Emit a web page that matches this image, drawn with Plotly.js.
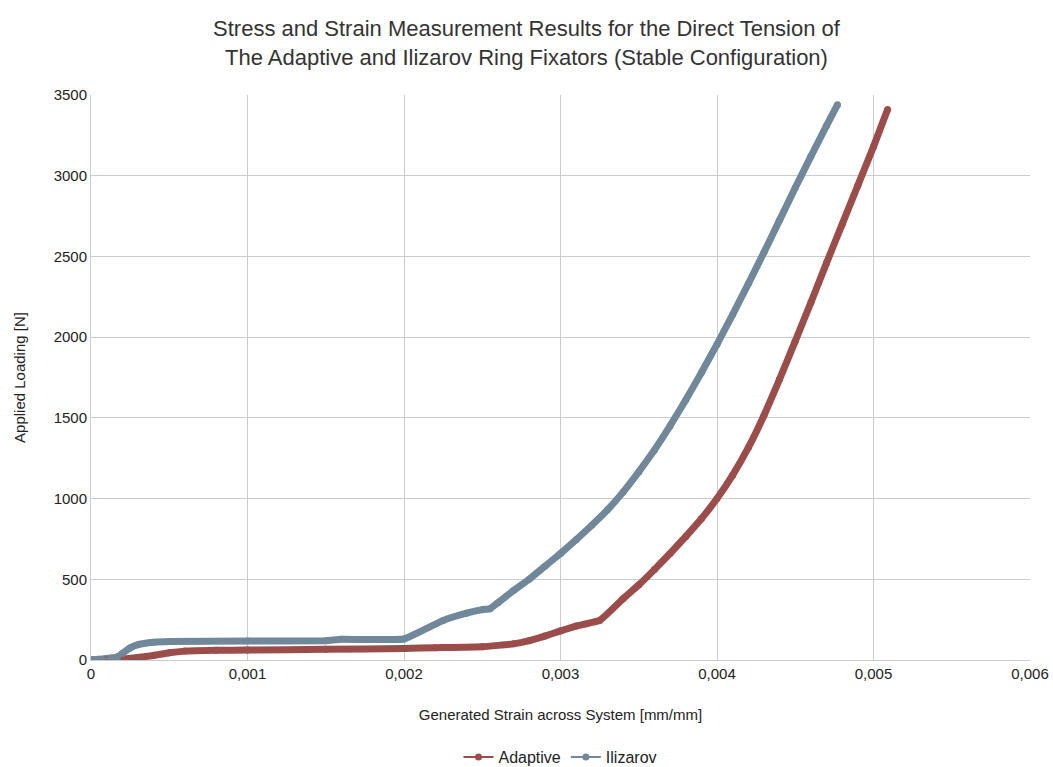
<!DOCTYPE html>
<html>
<head>
<meta charset="utf-8">
<script src="https://cdn.plot.ly/plotly-3.0.1.min.js"></script>
<style>html,body{margin:0;padding:0;background:#fff;}#chart{width:1053px;height:767px;}</style>
</head>
<body>
<div id="chart"></div>
<script>
// Generated strain [mm/mm] and applied loading [N]
var adaptiveStrain = [0, 0.0001, 0.0002, 0.0003, 0.0004, 0.0005, 0.0006, 0.0008, 0.001, 0.0015, 0.002, 0.0022, 0.0025, 0.0027, 0.0028, 0.0029, 0.003, 0.0031, 0.00325, 0.0034, 0.0035, 0.0036, 0.0037, 0.0038, 0.0039, 0.004, 0.0041, 0.0042, 0.0043, 0.0044, 0.0045, 0.0046, 0.0047, 0.0048, 0.0049, 0.005, 0.00509];
var adaptiveLoad   = [0, 2, 5, 15, 28, 45, 55, 60, 62, 66, 72, 76, 82, 100, 120, 148, 180, 210, 245, 380, 465, 560, 660, 765, 875, 1000, 1145, 1315, 1515, 1740, 1975, 2215, 2460, 2700, 2940, 3180, 3410];

var ilizarovStrain = [0, 0.00005, 0.00013, 0.00017, 0.0002, 0.00025, 0.0003, 0.0004, 0.0005, 0.001, 0.0015, 0.0016, 0.002, 0.00225, 0.0024, 0.0025, 0.00255, 0.0026, 0.0027, 0.0028, 0.0029, 0.003, 0.0031, 0.0032, 0.0033, 0.0034, 0.0035, 0.0036, 0.0037, 0.0038, 0.0039, 0.004, 0.0041, 0.0042, 0.0043, 0.0044, 0.0045, 0.0046, 0.0047, 0.00477];
var ilizarovLoad   = [0, 5, 12, 20, 40, 75, 95, 110, 115, 117, 120, 128, 130, 245, 290, 312, 318, 355, 430, 500, 580, 660, 745, 835, 930, 1040, 1165, 1300, 1450, 1610, 1780, 1955, 2140, 2330, 2525, 2725, 2925, 3120, 3310, 3440];

var xTickVals = [0, 0.001, 0.002, 0.003, 0.004, 0.005, 0.006];
var xTickText = ['0', '0,001', '0,002', '0,003', '0,004', '0,005', '0,006'];
var yTickVals = [0, 500, 1000, 1500, 2000, 2500, 3000, 3500];

var cAdaptive = '#9a4d4a';
var cIlizarov = '#71889a';

var traces = [
  {x: adaptiveStrain, y: adaptiveLoad, mode: 'lines', line: {color: cAdaptive, width: 7, shape: 'spline', smoothing: 0.3}, showlegend: false, hoverinfo: 'skip'},
  {x: ilizarovStrain, y: ilizarovLoad, mode: 'lines', line: {color: cIlizarov, width: 7, shape: 'spline', smoothing: 0.3}, showlegend: false, hoverinfo: 'skip'},
  {x: adaptiveStrain, y: adaptiveLoad, name: 'Adaptive', mode: 'lines+markers', line: {color: cAdaptive, width: 2, shape: 'spline', smoothing: 0.3}, marker: {color: cAdaptive, size: 7}},
  {x: ilizarovStrain, y: ilizarovLoad, name: 'Ilizarov', mode: 'lines+markers', line: {color: cIlizarov, width: 2, shape: 'spline', smoothing: 0.3}, marker: {color: cIlizarov, size: 7}}
];

var fontFam = 'Liberation Sans Narrow, Liberation Sans, Arial, sans-serif';
var bodyFont = 'Liberation Sans, Arial, sans-serif';
var layout = {
  width: 1053, height: 767,
  paper_bgcolor: '#ffffff', plot_bgcolor: '#ffffff',
  margin: {l: 91, r: 23, t: 95, b: 107},
  separators: ',.',
  title: {
    text: 'Stress and Strain Measurement Results for the Direct Tension of<br>The Adaptive and Ilizarov Ring Fixators (Stable Configuration)',
    font: {family: fontFam, size: 22, color: '#333333'},
    x: 0.5, xanchor: 'center', y: 0.953, yanchor: 'top'
  },
  xaxis: {
    range: [0, 0.006], tickvals: xTickVals, ticktext: xTickText,
    showgrid: true, gridcolor: '#cccccc', gridwidth: 1,
    zeroline: false, showline: true, linecolor: '#cccccc',
    ticks: '', tickfont: {family: bodyFont, size: 15, color: '#222222'},
    title: {text: 'Generated Strain across System [mm/mm]', font: {family: bodyFont, size: 15, color: '#222222'}, standoff: 28},
    automargin: false
  },
  yaxis: {
    range: [0, 3500], tickvals: yTickVals,
    showgrid: true, gridcolor: '#cccccc', gridwidth: 1,
    zeroline: false, showline: true, linecolor: '#cccccc',
    ticks: '', tickfont: {family: bodyFont, size: 15, color: '#222222'},
    title: {text: 'Applied Loading [N]', font: {family: bodyFont, size: 15, color: '#222222'}, standoff: 24},
    automargin: false
  },
  legend: {
    orientation: 'h', x: 0.5, xanchor: 'center',
    yref: 'container', y: 0.013, yanchor: 'middle',
    font: {family: bodyFont, size: 16, color: '#222222'},
    itemwidth: 30, traceorder: 'normal'
  },
  showlegend: true
};

Plotly.newPlot('chart', traces, layout, {staticPlot: true, displayModeBar: false});
</script>
</body>
</html>
